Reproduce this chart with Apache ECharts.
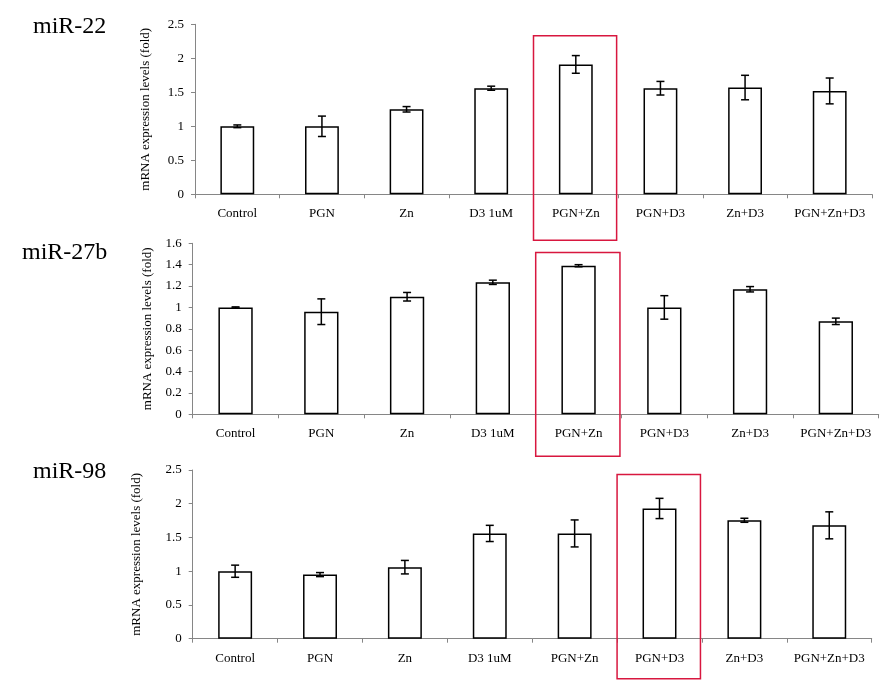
<!DOCTYPE html>
<html>
<head>
<meta charset="utf-8">
<script src="https://cdn.jsdelivr.net/npm/echarts@6/dist/echarts.min.js"></script>
<style>
html,body{margin:0;padding:0;background:#fff;}
#chart{width:894px;height:681px;}
</style>
</head>
<body>
<div id="chart"></div>
<script>
const categories = ['Control','PGN','Zn','D3 1uM','PGN+Zn','PGN+D3','Zn+D3','PGN+Zn+D3'];
const panelTitles = ['miR-22','miR-27b','miR-98'];
const mir22 = [1.00, 1.00, 1.25, 1.56, 1.91, 1.56, 1.57, 1.52];
const mir22Err = [0.02, 0.15, 0.04, 0.03, 0.13, 0.10, 0.18, 0.19];
const mir27b = [1.00, 0.96, 1.10, 1.235, 1.39, 1.00, 1.17, 0.87];
const mir27bErr = [0.005, 0.12, 0.04, 0.02, 0.01, 0.11, 0.025, 0.03];
const mir98 = [1.00, 0.95, 1.06, 1.56, 1.56, 1.93, 1.755, 1.68];
const mir98Err = [0.09, 0.03, 0.10, 0.12, 0.20, 0.15, 0.03, 0.20];
const yMax = [2.5, 1.6, 2.5];
const yInterval = [0.5, 0.2, 0.5];
const highlightCategory = ['PGN+Zn', 'PGN+Zn', 'PGN+D3'];
const highlightTop = [2.33, 1.515, 2.435];

const values = [mir22, mir27b, mir98];
const errors = [mir22Err, mir27bErr, mir98Err];

const FONT = '"Liberation Serif", "Times New Roman", serif';
const AXIS_COLOR = '#868686';

const grids = [
  {left: 195, right: 22, top: 24.3, height: 170},
  {left: 192.7, right: 15.3, top: 243.3, height: 171},
  {left: 192.7, right: 22.3, top: 470, height: 168.7}
];
const nameGaps = [43, 35, 50];
const titlePos = [{left: 33, top: 15}, {left: 22, top: 241}, {left: 33, top: 460}];

const chart = echarts.init(document.getElementById('chart'), null, {renderer: 'canvas'});

const option = {
  backgroundColor: '#ffffff',
  animation: false,
  title: panelTitles.map((t, i) => ({
    text: t, left: titlePos[i].left, top: titlePos[i].top, padding: 0,
    textStyle: {fontFamily: FONT, fontSize: 24, fontWeight: 'normal', color: '#000'}
  })),
  grid: grids.map(g => Object.assign({containLabel: false}, g)),
  xAxis: grids.map((g, i) => ({
    type: 'category', gridIndex: i, data: categories,
    axisLine: {lineStyle: {color: AXIS_COLOR, width: 1}},
    axisTick: {show: true, length: 4, lineStyle: {color: AXIS_COLOR}},
    axisLabel: {fontFamily: FONT, fontSize: 13, color: '#000', margin: 13, interval: 0}
  })),
  yAxis: grids.map((g, i) => ({
    type: 'value', gridIndex: i, min: 0, max: yMax[i], interval: yInterval[i],
    name: 'mRNA expression levels (fold)', nameLocation: 'middle', nameGap: nameGaps[i],
    nameTextStyle: {fontFamily: FONT, fontSize: 13, color: '#000'},
    axisLine: {show: true, lineStyle: {color: AXIS_COLOR, width: 1}},
    axisTick: {show: true, length: 4, lineStyle: {color: AXIS_COLOR}},
    splitLine: {show: false},
    axisLabel: {fontFamily: FONT, fontSize: 13, color: '#000', margin: 11}
  })),
  series: []
};

values.forEach((v, i) => {
  option.series.push({
    type: 'bar', xAxisIndex: i, yAxisIndex: i, data: v, barWidth: '40%',
    itemStyle: {color: '#ffffff', borderColor: '#000', borderWidth: 1.5},
    z: 2
  });
  option.series.push({
    type: 'custom', xAxisIndex: i, yAxisIndex: i, z: 5,
    data: v.map((val, k) => [k, val, errors[i][k]]),
    renderItem: function (params, api) {
      const x = api.value(0), val = api.value(1), e = api.value(2);
      const hi = api.coord([x, val + e]);
      const lo = api.coord([x, val - e]);
      const hw = 4;
      const st = {stroke: '#000', lineWidth: 1.5};
      return {
        type: 'group',
        children: [
          {type: 'line', shape: {x1: hi[0], y1: hi[1], x2: lo[0], y2: lo[1]}, style: st},
          {type: 'line', shape: {x1: hi[0] - hw, y1: hi[1], x2: hi[0] + hw, y2: hi[1]}, style: st},
          {type: 'line', shape: {x1: lo[0] - hw, y1: lo[1], x2: lo[0] + hw, y2: lo[1]}, style: st}
        ]
      };
    }
  });
});

chart.setOption(option);

// red highlight boxes around the emphasised category, derived from the axes
const bottomExtra = [46, 42, 40];
const graphics = highlightCategory.map((cat, i) => {
  const idx = categories.indexOf(cat);
  const c = chart.convertToPixel({gridIndex: i}, [idx, highlightTop[i]]);
  const zero = chart.convertToPixel({gridIndex: i}, [idx, 0]);
  const next = chart.convertToPixel({gridIndex: i}, [idx + 1, 0]);
  const band = next[0] - zero[0];
  const x0 = c[0] - band / 2;
  return {
    type: 'rect', silent: true, z: 10,
    shape: {x: x0, y: c[1], width: band - 1.5, height: zero[1] + bottomExtra[i] - c[1]},
    style: {fill: 'none', stroke: '#d8173f', lineWidth: 1.5}
  };
});
chart.setOption({graphic: graphics});
</script>
</body>
</html>
